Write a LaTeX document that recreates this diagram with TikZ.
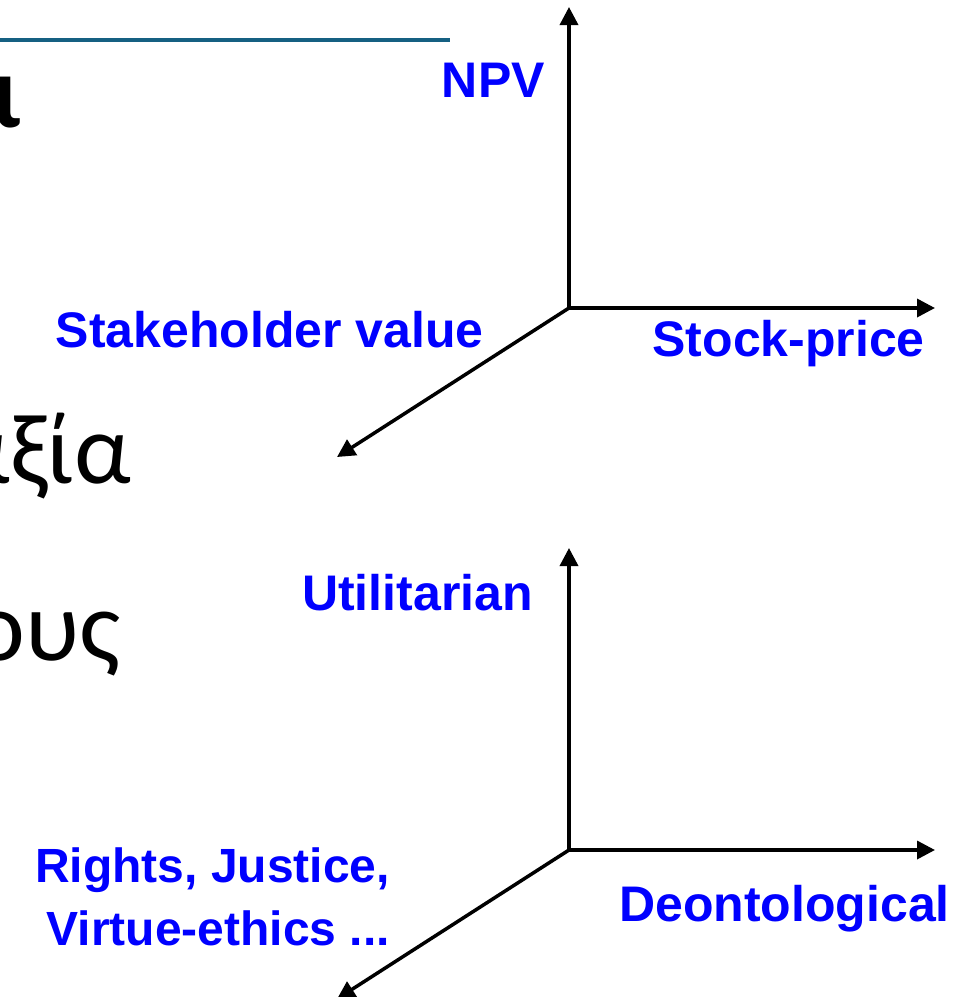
\documentclass[tikz,border=0pt]{standalone}
\usepackage{fontspec}
\setmainfont{Liberation Sans}
\newfontfamily\greekfont{Carlito}
\usepackage{tikz}
\usetikzlibrary{arrows.meta}
\usetikzlibrary{positioning}
\definecolor{ruleteal}{RGB}{21,96,130}
\definecolor{labelblue}{RGB}{0,0,255}
\tikzset{x=1pt, y=-1pt, % one unit is one pixel of the slide
axis/.style={ % Sets the properties for each axis arrow
draw,
line width=3.5pt,
-{Triangle[length=18pt,width=18pt]}},
axislabel/.style={ % Blue bold text next to the axes
text=labelblue,
inner sep=0pt,
font=\bfseries\fontsize{50}{56}\selectfont},
slidetext/.style={ % Cut-off slide text on the left
inner sep=0pt,
font=\greekfont\fontsize{100}{110}\selectfont}}

\begin{document}
\begin{tikzpicture}
\useasboundingbox (0,0) rectangle (968,997);
\draw[ruleteal, line width=4pt] (0,40) -- (450,40);
\node[slidetext, anchor=base east, font=\greekfont\bfseries\fontsize{104}{110}\selectfont] (title) at (21,127) {ι};
\node[slidetext, anchor=base east] (worth) at (131,483) {αξία};
\node[slidetext, anchor=base east] (others) at (121,660) {ους};
% upper axes
\coordinate (o1) at (569,308);
\coordinate (y1) at (569,7);
\coordinate (x1) at (935,308);
\coordinate (z1) at (337,457);
\draw[axis] (o1) -- (y1);
\draw[axis] (o1) -- (x1);
\draw[axis] (o1) -- (z1);
\node[axislabel, anchor=base east] (npv) at (545,97) {NPV};
\node[axislabel, anchor=base east] (stake) at (484,347) {Stakeholder value};
\node[axislabel, anchor=base east] (stock) at (925,356) {Stock-price};
% lower axes
\coordinate (o2) at (569,850);
\coordinate (y2) at (569,548);
\coordinate (x2) at (935,850);
\coordinate (z2) at (337,999);
\draw[axis] (o2) -- (y2);
\draw[axis] (o2) -- (x2);
\draw[axis] (o2) -- (z2);
\node[axislabel, anchor=base east] (util) at (533,610) {Utilitarian};
\node[axislabel, anchor=base east] (deon) at (950,921) {Deontological};
\node[axislabel, anchor=base east, align=right, font=\bfseries\fontsize{48}{63}\selectfont] (rights) at (390,945) {Rights, Justice,\\Virtue-ethics ...};
\end{tikzpicture}
\end{document}
